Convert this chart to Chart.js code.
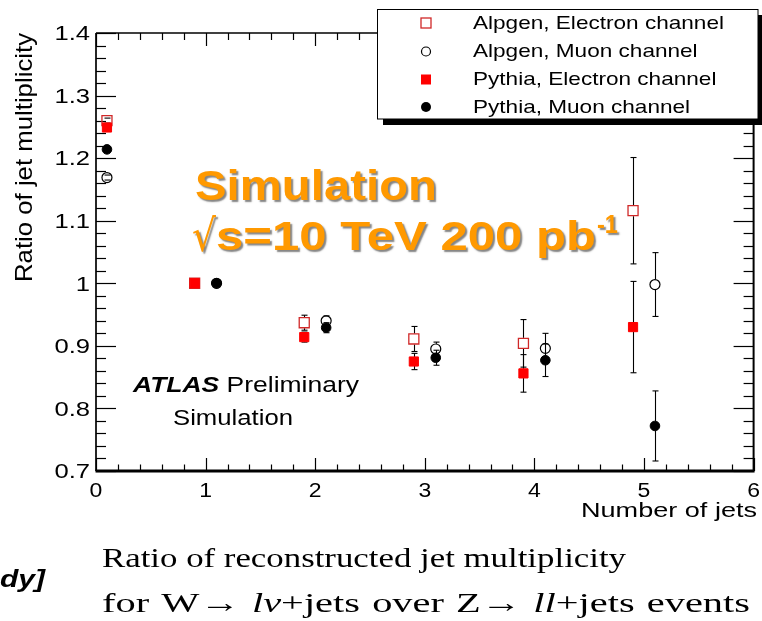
<!DOCTYPE html>
<html><head><meta charset="utf-8">
<script src="https://cdn.jsdelivr.net/npm/chart.js@4.4.1/dist/chart.umd.min.js"></script>
<style>
html,body{margin:0;padding:0;background:#fff;width:762px;height:621px;overflow:hidden;}
canvas{position:absolute;left:0;top:0;}
</style></head>
<body>
<canvas id="c" width="762" height="621"></canvas>
<script>
// ---------------- data ----------------
const nJets = [0, 1, 2, 3, 4, 5];
const xElectron = [0.1, 0.9, 1.9, 2.9, 3.9, 4.9];
const xMuon     = [0.1, 1.1, 2.1, 3.1, 4.1, 5.1];
const alpgenElectron    = [1.260, 1.000, 0.937, 0.911, 0.904, 1.116];
const alpgenElectronErr = [0.004, 0.000, 0.012, 0.020, 0.038, 0.085];
const alpgenMuon        = [1.169, 1.000, 0.940, 0.895, 0.896, 0.998];
const alpgenMuonErr     = [0.004, 0.000, 0.008, 0.011, 0.024, 0.051];
const pythiaElectron    = [1.249, 1.000, 0.914, 0.875, 0.856, 0.930];
const pythiaElectronErr = [0.004, 0.000, 0.008, 0.013, 0.030, 0.073];
const pythiaMuon        = [1.214, 1.000, 0.929, 0.881, 0.877, 0.772];
const pythiaMuonErr     = [0.004, 0.000, 0.008, 0.012, 0.026, 0.056];
const seriesNames = ['Alpgen, Electron channel', 'Alpgen, Muon channel', 'Pythia, Electron channel', 'Pythia, Muon channel'];
const xTickLabels = ['0', '1', '2', '3', '4', '5', '6'];
const yTickLabels = ['0.7', '0.8', '0.9', '1', '1.1', '1.2', '1.3', '1.4'];
const xTitle = 'Number of jets';
const yTitle = 'Ratio of jet multiplicity';

// ---------------- styles ----------------
const RED = '#ff0000', RED_OPEN = '#d02828';
const SANS = '"Liberation Sans", Arial, Helvetica, sans-serif';
const SERIF = '"Liberation Serif", "Times New Roman", serif';
const ORANGE = '#ff9900';

function pts(xs, ys) { return xs.map((x, i) => ({ x: x, y: ys[i] })); }

const styles = [
  { pointStyle: 'rect', pointRadius: 7.1, borderColor: RED_OPEN, backgroundColor: 'rgba(0,0,0,0)', borderWidth: 1.3, order: 4 },
  { pointStyle: 'circle', pointRadius: 5, borderColor: '#000', backgroundColor: 'rgba(0,0,0,0)', borderWidth: 1.2, order: 3 },
  { pointStyle: 'rect', pointRadius: 6.5, borderColor: RED, backgroundColor: RED, borderWidth: 1, order: 2 },
  { pointStyle: 'circle', pointRadius: 4.8, borderColor: '#000', backgroundColor: '#000', borderWidth: 1, order: 1 }
];
const seriesX = [xElectron, xMuon, xElectron, xMuon];
const seriesY = [alpgenElectron, alpgenMuon, pythiaElectron, pythiaMuon];
const seriesE = [alpgenElectronErr, alpgenMuonErr, pythiaElectronErr, pythiaMuonErr];
const markerKinds = ['openSquare', 'openCircle', 'fillSquare', 'fillCircle'];

function seg(ctx, x1, y1, x2, y2) { ctx.beginPath(); ctx.moveTo(x1, y1); ctx.lineTo(x2, y2); ctx.stroke(); }

function measureSegs(ctx, segs) {
  let w = 0;
  segs.forEach(s => { ctx.font = s.f; s.w = ctx.measureText(s.t).width; w += s.w; });
  return w;
}

function drawSegs(ctx, segs, x, y, opts) {
  opts = opts || {};
  const w = measureSegs(ctx, segs);
  const sx = opts.width ? opts.width / w : (opts.sx || 1);
  const tw = w * sx;
  let x0 = x;
  if (opts.align === 'right') x0 = x - tw; else if (opts.align === 'center') x0 = x - tw / 2;
  ctx.save();
  if (opts.rot) { ctx.translate(x, y); ctx.rotate(opts.rot); ctx.translate(x0 - x, 0); }
  else ctx.translate(x0, y);
  ctx.scale(sx, 1);
  ctx.textAlign = 'left'; ctx.textBaseline = 'alphabetic';
  ctx.fillStyle = opts.color || '#000';
  if (opts.shadow) {
    ctx.shadowColor = 'rgba(110,110,110,0.85)'; ctx.shadowOffsetX = 2; ctx.shadowOffsetY = 2; ctx.shadowBlur = 1.5;
  }
  let cx = 0;
  segs.forEach(s => { ctx.font = s.f; ctx.fillText(s.t, cx, s.dy || 0); cx += s.w; });
  ctx.restore();
  return sx;
}

// draw with a fixed horizontal scale, spreading the remaining width over the spaces
function drawSpread(ctx, segs, x, y, sx, width) {
  const w = measureSegs(ctx, segs);
  let spaces = 0;
  segs.forEach(s => { spaces += (s.t.match(/ /g) || []).length; });
  const extra = spaces ? (width - w * sx) / spaces : 0;
  ctx.save();
  ctx.textAlign = 'left'; ctx.textBaseline = 'alphabetic'; ctx.fillStyle = '#000';
  let cx = x;
  segs.forEach(s => {
    ctx.font = s.f;
    const parts = s.t.split(' ');
    parts.forEach((p, k) => {
      if (p.length) {
        ctx.save(); ctx.translate(cx, y); ctx.scale(sx, 1); ctx.fillText(p, 0, 0); ctx.restore();
        cx += ctx.measureText(p).width * sx;
      }
      if (k < parts.length - 1) cx += ctx.measureText(' ').width * sx + extra;
    });
  });
  ctx.restore();
}

function drawMarker(ctx, kind, x, y, s) {
  ctx.save();
  if (kind === 'openSquare') { ctx.lineWidth = 1.3; ctx.strokeStyle = RED_OPEN; ctx.strokeRect(x - s / 2, y - s / 2, s, s); }
  else if (kind === 'fillSquare') { ctx.fillStyle = RED; ctx.fillRect(x - s / 2, y - s / 2, s, s); }
  else if (kind === 'openCircle') { ctx.lineWidth = 1.2; ctx.strokeStyle = '#000'; ctx.beginPath(); ctx.arc(x, y, s / 2 - 0.5, 0, Math.PI * 2); ctx.stroke(); }
  else { ctx.fillStyle = '#000'; ctx.beginPath(); ctx.arc(x, y, s / 2, 0, Math.PI * 2); ctx.fill(); }
  ctx.restore();
}

const rootPlugin = {
  id: 'rootStyle',
  beforeDatasetsDraw(chart) {
    const ctx = chart.ctx, xs = chart.scales.x, ys = chart.scales.y, a = chart.chartArea;
    ctx.save();
    ctx.strokeStyle = '#000';
    ctx.lineWidth = 1.2;
    const yMin = Number(yTickLabels[0]);
    for (let i = 0; i <= 35; i++) {
      const y = Math.round(ys.getPixelForValue(yMin + i * 0.02)) + 0.5;
      const major = i % 5 === 0;
      seg(ctx, a.left, y, a.left + (major ? 20 : 10), y);
      seg(ctx, a.right - (major ? 20 : 10), y, a.right, y);
    }
    for (let i = 0; i <= 30; i++) {
      const x = Math.round(xs.getPixelForValue(i * 0.2)) + 0.5;
      const major = i % 5 === 0;
      seg(ctx, x, a.bottom, x, a.bottom - (major ? 13 : 6.5));
      seg(ctx, x, a.top, x, a.top + (major ? 13 : 7));
    }
    ctx.lineWidth = 1.4; seg(ctx, a.left, a.top, a.right, a.top);
    ctx.lineWidth = 2; seg(ctx, a.right, a.top, a.right, a.bottom);
    ctx.lineWidth = 1.7; seg(ctx, a.left, a.top, a.left, a.bottom);
    ctx.lineWidth = 3; seg(ctx, a.left - 0.5, a.bottom, a.right + 1, a.bottom);
    ctx.lineWidth = 1.1;
    for (let s = 0; s < 4; s++) {
      const gap = (s === 0 ? 5.5 : s === 1 ? 5.2 : 4.5);
      seriesY[s].forEach((v, i) => {
        const e = seriesE[s][i];
        if (!e) return;
        const x = Math.round(xs.getPixelForValue(seriesX[s][i])) + 0.5;
        const yc = ys.getPixelForValue(v);
        const yt = ys.getPixelForValue(v + e), yb = ys.getPixelForValue(v - e);
        if (yc - gap > yt) seg(ctx, x, yt, x, yc - gap);
        if (yc + gap < yb) seg(ctx, x, yc + gap, x, yb);
        seg(ctx, x - 3, yt, x + 3, yt);
        seg(ctx, x - 3, yb, x + 3, yb);
      });
    }
    ctx.restore();
  },
  afterDraw(chart) {
    const ctx = chart.ctx, xs = chart.scales.x, ys = chart.scales.y;
    yTickLabels.forEach(l => {
      const y = ys.getPixelForValue(Number(l));
      drawSegs(ctx, [{ t: l, f: '20px ' + SANS }], 90, y + 7.3, { align: 'right', sx: 1.28 });
    });
    xTickLabels.forEach(l => {
      const x = xs.getPixelForValue(Number(l));
      drawSegs(ctx, [{ t: l, f: '20px ' + SANS }], x, 497, { align: 'center', sx: 1.15 });
    });
    drawSegs(ctx, [{ t: xTitle, f: '21px ' + SANS }], 757, 517, { align: 'right', width: 176 });
    drawSegs(ctx, [{ t: yTitle, f: '24px ' + SANS }], 32, 282, { rot: -Math.PI / 2, width: 249 });
    // legend
    ctx.save();
    ctx.fillStyle = '#000'; ctx.fillRect(383, 15, 385, 110);
    ctx.fillStyle = '#fff'; ctx.fillRect(377, 9, 381, 110);
    ctx.strokeStyle = '#000'; ctx.lineWidth = 1; ctx.strokeRect(377.5, 9.5, 380.5, 109.5);
    ctx.restore();
    const rowsY = [23, 51.5, 79.5, 107];
    seriesNames.forEach((n, i) => {
      drawMarker(ctx, markerKinds[i], 426, rowsY[i], 10);
      drawSegs(ctx, [{ t: n, f: '18.5px ' + SANS }], 473, rowsY[i] + 5.5, { sx: 1.22 });
    });
    // ATLAS label
    drawSegs(ctx, [{ t: 'ATLAS', f: 'italic bold 22px ' + SANS }, { t: ' Preliminary', f: '22px ' + SANS }], 133, 392, { width: 226 });
    drawSegs(ctx, [{ t: 'Simulation', f: '22px ' + SANS }], 173, 425, { width: 120 });
    // orange annotation
    drawSegs(ctx, [{ t: 'Simulation', f: 'bold 42px ' + SANS }], 195, 200, { width: 242, color: ORANGE, shadow: true });
    drawSegs(ctx, [{ t: '\u221A', f: '44px "DejaVu Sans", ' + SANS }], 192, 251, { width: 24, color: ORANGE, shadow: true });
    drawSegs(ctx, [{ t: 's=10 TeV 200 pb', f: 'bold 41px ' + SANS }], 216, 250, { width: 380, color: ORANGE, shadow: true });
    drawSegs(ctx, [{ t: '-1', f: 'bold 25px ' + SANS }], 597, 233, { width: 21, color: ORANGE, shadow: true });
    // caption below
    const sx1 = drawSegs(ctx, [{ t: 'Ratio of reconstructed jet multiplicity', f: '28px ' + SERIF }], 102, 567, { width: 524 });
    drawSpread(ctx, [
      { t: 'for W\u2192 ', f: '28px ' + SERIF },
      { t: 'l\u03BD', f: 'italic 28px ' + SERIF },
      { t: '+jets over Z\u2192 ', f: '28px ' + SERIF },
      { t: 'll', f: 'italic 28px ' + SERIF },
      { t: '+jets events', f: '28px ' + SERIF }
    ], 102, 612, sx1 * 1.16, 648);
    drawSegs(ctx, [{ t: 'dy]', f: 'italic bold 24px ' + SANS }], 0, 587, { width: 45 });
  }
};

new Chart(document.getElementById('c').getContext('2d'), {
  type: 'scatter',
  data: {
    datasets: seriesNames.map((name, i) => Object.assign({
      label: name,
      data: pts(seriesX[i], seriesY[i]),
      showLine: false,
      pointHoverRadius: 0
    }, styles[i]))
  },
  options: {
    responsive: false,
    animation: false,
    devicePixelRatio: 1,
    events: [],
    layout: { padding: { left: 96, top: 33, right: 4, bottom: 150 } },
    scales: {
      x: { type: 'linear', min: 0, max: 6, display: false },
      y: { type: 'linear', min: 0.7, max: 1.4, display: false }
    },
    plugins: { legend: { display: false }, tooltip: { enabled: false } }
  },
  plugins: [rootPlugin]
});
</script>
</body></html>
